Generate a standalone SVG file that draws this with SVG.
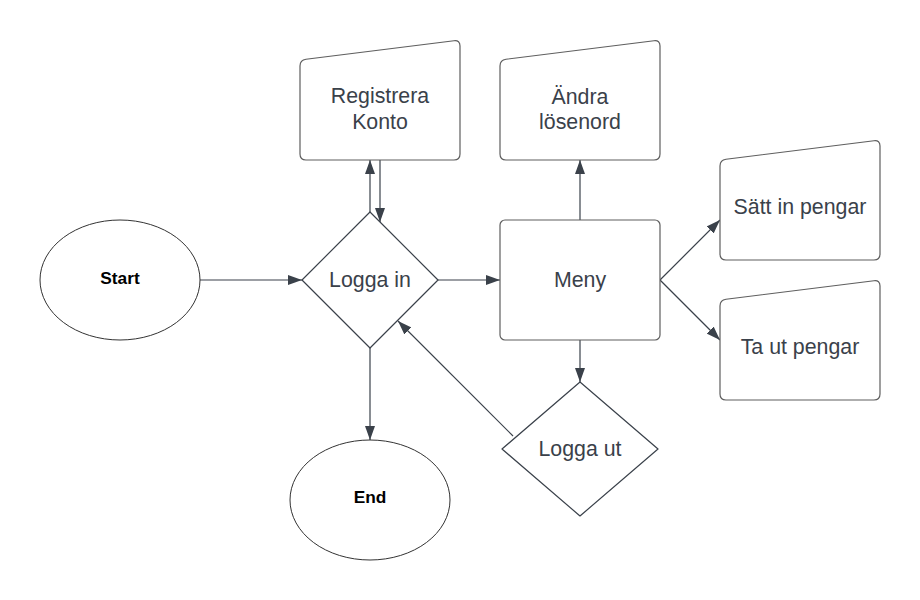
<svg xmlns="http://www.w3.org/2000/svg" width="920" height="600" viewBox="0 0 920 600">
<defs>
<style>
.box{fill:#fff;stroke:#5e5e5e;stroke-width:1.2}
.dia{fill:#fff;stroke:#3a414a;stroke-width:1.2;stroke-linejoin:round}
.ell{fill:#fff;stroke:#333;stroke-width:1}
.t{font-family:"Liberation Sans",Arial,sans-serif;font-size:21.33px;fill:#3a414a;text-anchor:middle}
.b{font-family:"Liberation Sans",Arial,sans-serif;font-size:17.3px;font-weight:bold;fill:#000;text-anchor:middle}
.c{fill:none;stroke:#3a414a;stroke-width:1.2}
</style>
<marker id="ah" markerUnits="userSpaceOnUse" markerWidth="14" markerHeight="10" refX="14" refY="5" orient="auto">
<path d="M0,0 L14,5 L0,10 Z" fill="#3a414a"/>
</marker>
</defs>
<rect width="920" height="600" fill="#fff"/>
<g id="connectors">
<line class="c" x1="200" y1="280" x2="302" y2="280" marker-end="url(#ah)"/>
<line class="c" x1="370" y1="212" x2="370" y2="160" marker-end="url(#ah)"/>
<line class="c" x1="380" y1="160" x2="380" y2="222" marker-end="url(#ah)"/>
<line class="c" x1="438" y1="280" x2="500" y2="280" marker-end="url(#ah)"/>
<line class="c" x1="580" y1="220" x2="580" y2="160" marker-end="url(#ah)"/>
<line class="c" x1="660" y1="280" x2="720" y2="220" marker-end="url(#ah)"/>
<line class="c" x1="660" y1="280" x2="720" y2="340" marker-end="url(#ah)"/>
<line class="c" x1="580" y1="340" x2="580" y2="382" marker-end="url(#ah)"/>
<line class="c" x1="513" y1="436" x2="398" y2="321" marker-end="url(#ah)"/>
<line class="c" x1="370" y1="348" x2="370" y2="440" marker-end="url(#ah)"/>
</g>
<g id="start">
<ellipse class="ell" cx="120" cy="280" rx="80" ry="60"/>
<text class="b" x="120" y="283.5">Start</text>
</g>
<g id="end">
<ellipse class="ell" cx="370" cy="500" rx="80" ry="60"/>
<text class="b" x="370" y="503">End</text>
</g>
<g id="logga-in">
<polygon class="dia" points="370,212 438,280 370,348 302,280"/>
<text class="t" x="370" y="286.5">Logga in</text>
</g>
<g id="logga-ut">
<polygon class="dia" points="580,382 658,449 580,516 502,449"/>
<text class="t" x="580" y="455.5">Logga ut</text>
</g>
<g id="meny">
<rect class="box" x="500" y="220" width="160" height="120" rx="5"/>
<text class="t" x="580" y="286.5">Meny</text>
</g>
<g id="registrera">
<path class="box" d="M300,66 Q300,60 306,59.25 L454,40.75 Q460,40 460,46 L460,154 Q460,160 454,160 L306,160 Q300,160 300,154 Z"/>
<text class="t" x="380" y="103">Registrera</text>
<text class="t" x="380" y="128.5">Konto</text>
</g>
<g id="andra">
<path class="box" d="M500,66 Q500,60 506,59.25 L654,40.75 Q660,40 660,46 L660,154 Q660,160 654,160 L506,160 Q500,160 500,154 Z"/>
<text class="t" x="580" y="103.5">Ändra</text>
<text class="t" x="580" y="129">lösenord</text>
</g>
<g id="satt-in">
<path class="box" d="M720,166 Q720,160 726,159.25 L874,140.75 Q880,140 880,146 L880,254 Q880,260 874,260 L726,260 Q720,260 720,254 Z"/>
<text class="t" x="800" y="213.5">Sätt in pengar</text>
</g>
<g id="ta-ut">
<path class="box" d="M720,306 Q720,300 726,299.25 L874,280.75 Q880,280 880,286 L880,394 Q880,400 874,400 L726,400 Q720,400 720,394 Z"/>
<text class="t" x="800" y="353.5">Ta ut pengar</text>
</g>
</svg>
